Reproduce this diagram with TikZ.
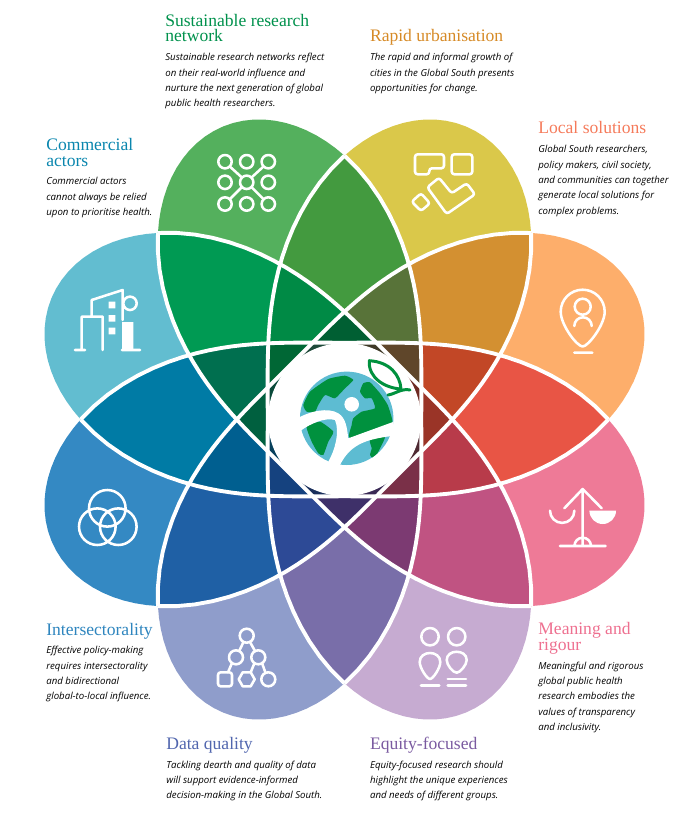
\documentclass[tikz,border=0pt]{standalone}
\usepackage{fontspec}
\setmainfont{Open Sans}
\newfontfamily\headfont{Liberation Serif}
\usetikzlibrary{positioning}
\definecolor{globegreen}{HTML}{00913E}
\definecolor{globeteal}{HTML}{5DBCD2}
\definecolor{sustcol}{HTML}{00914C}
\definecolor{rapidcol}{HTML}{D68A26}
\definecolor{localcol}{HTML}{F57A5A}
\definecolor{commcol}{HTML}{0A86AE}
\definecolor{intercol}{HTML}{2E85BE}
\definecolor{datacol}{HTML}{5166AE}
\definecolor{equitycol}{HTML}{7A5AA0}
\definecolor{meancol}{HTML}{EE7090}
\newcommand{\petal}[3]{%
\definecolor{petalcol}{HTML}{#3}
\fill [petalcol] plot [domain=-22.5:22.5,samples=25] (#1+\x:{Q(#2-abs(\x))})
  -- plot [domain=22.5:-22.5,samples=25] (#1+\x:{Q(#2-45+abs(\x))}) -- cycle;}
\newcommand{\sliver}[2]{%
\definecolor{petalcol}{HTML}{#2}
\fill [petalcol] (0,0) -- plot [domain=-22.5:22.5,samples=25] (#1+\x:{Q(22.5-abs(\x))}) -- cycle;}
\begin{document}
\begin{tikzpicture}[x=0.02cm,y=0.02cm,
declare function={Q(\t)=164-114*cos(1.6*\t)+32.4*cos(3.2*\t)-6.2*cos(4.8*\t)+0.6*cos(6.4*\t);},
head/.style={anchor=north west,inner sep=0pt,align=left,font=\headfont\fontsize{10}{8.8}\selectfont},
body/.style={anchor=north west,inner sep=0pt,align=left,font=\fontsize{5.5}{8.73}\selectfont\itshape},
icon/.style={draw=white,line width=1.45pt,line cap=round,line join=round}]
\useasboundingbox (0,0) rectangle (681,-825);
\begin{scope}[shift={(344.5,-419.5)}]
\foreach \ang/\col in {67.5/DAC84A,22.5/FDAE6B,-22.5/EE7A97,-67.5/C6ABD1,-112.5/8F9DCB,-157.5/3489C3,157.5/62BDD0,112.5/54B05D}
  \petal{\ang}{112.5}{\col};
\foreach \ang/\col in {90/439A3F,45/D39031,0/E85545,-45/C05382,-90/796EA9,-135/1F60A5,180/007BA5,135/009A53}
  \petal{\ang}{90}{\col};
\foreach \ang/\col in {67.5/587339,22.5/C24726,-22.5/B83B4A,-67.5/7C3A72,-112.5/2D4A96,-157.5/005F90,157.5/006F4F,112.5/008A45}
  \petal{\ang}{67.5}{\col};
\foreach \ang/\col in {90/005F33,45/5F462A,0/9A3427,-45/7A3048,-90/3E3069,-135/15427F,180/00603F,135/006735}
  \petal{\ang}{45}{\col};
\foreach \ang/\col in {67.5/3F3A28,22.5/6E2A22,-22.5/4E2A33,-67.5/3A2A55,-112.5/1A2F5C,-157.5/08405C,157.5/0A4A3A,112.5/1F4A3A}
  \sliver{\ang}{\col};
\foreach \ang in {0,45,...,315}
  \draw [white,line width=2.2pt] plot [domain=-90:90,samples=61] (\ang+\x:{Q(abs(\x))});
\fill [white] (0,0) circle (76.5);
\end{scope}
\fill [globeteal] (346.7,-418.3) circle (46.7);
\begin{scope}
\clip (346.7,-418.3) circle (46.7);
\fill [globegreen] plot [smooth cycle,tension=0.3] coordinates {(328.3,-379) (345,-375.7) (353.3,-380) (345,-388.3) (335,-398.3) (325,-395) (318.3,-405) (315,-411.7) (306.7,-411.7) (303.3,-405) (310,-391.7)};
\fill [globegreen] plot [smooth cycle,tension=0.3] coordinates {(353.3,-418.3) (361.7,-411.7) (375,-408.3) (371.7,-398.3) (365,-398.3) (360,-391.7) (363.3,-383.3) (370,-382.3) (380,-393.3) (387.7,-405) (392.3,-420) (390,-426.7) (350,-438.3) (351.7,-425)};
\fill [globegreen] plot [smooth cycle,tension=0.3] coordinates {(306.7,-426.7) (320,-421.7) (333.3,-431.7) (328.3,-441.7) (323.3,-455) (318.3,-453.3) (311.7,-441.7)};
\fill [globegreen] plot [smooth cycle,tension=0.3] coordinates {(370,-440) (385,-436.7) (378.3,-451.7) (373.3,-458.3) (370,-455) (371.7,-448.3)};
\end{scope}
\fill [white] (296,-419) .. controls (310,-411) and (328,-407) .. (338.3,-413.3) .. controls (346,-418) and (347,-428) .. (348.3,-438.3) -- (393,-422) -- (393,-436) -- (386.7,-436.7) .. controls (365,-440) and (350,-445) .. (340,-465) -- (341,-472) -- (328.3,-461.7) .. controls (335,-450) and (340,-432) .. (335,-420) .. controls (325,-417) and (310,-424) .. (301.7,-430) -- (296,-432) -- cycle;
\fill [white] (351.7,-404.3) circle (7.3);
\draw [globegreen,line width=1.7pt,line join=round,line cap=round] (369.3,-360.7) .. controls (390,-362) and (400,-375) .. (401,-389) .. controls (385,-388) and (368,-378) .. (369.3,-360.7) -- cycle (388,-395) .. controls (395,-394) and (402,-388) .. (410,-390);
\draw [icon] (225,-161.7) circle (6.7) (246.7,-161.7) circle (6.7) (268.3,-161.7) circle (6.7) (225,-182.3) circle (6.7) (246.7,-182.3) circle (6.7) (268.3,-182.3) circle (6.7) (225,-204) circle (6.7) (246.7,-204) circle (6.7) (268.3,-204) circle (6.7);
\draw [icon] (229.7,-166.4) -- (242,-177.6) (263.6,-166.4) -- (251.4,-177.6) (229.7,-199.3) -- (242,-187) (263.6,-199.3) -- (251.4,-187);
\draw [icon,rounded corners=1.5] (415,-154.3) -- (444,-154.3) -- (444,-168.3) -- (429.3,-168.3) -- (429.3,-174.3) -- (415,-174.3) -- cycle;
\draw [icon,rounded corners=1.5] (451.7,-154.3) -- (472.3,-154.3) -- (472.3,-174.3) -- (451.7,-174.3) -- cycle;
\draw [icon,rounded corners=1.5] (427.3,-187.3) -- (439,-177.7) -- (451.7,-193.3) -- (466.7,-183.3) -- (475,-194.3) -- (446.7,-214) -- cycle;
\draw [icon,rounded corners=1.5] (411.7,-201.7) -- (421,-193.3) -- (430,-203.3) -- (421,-211) -- cycle;
\draw [icon] (560.7,-311.7) arc (180:0:22) .. controls (604.7,-325) and (588,-346.5) .. (582.7,-346.5) .. controls (577,-346.5) and (560.7,-325) .. (560.7,-311.7) -- cycle;
\draw [icon] (582.7,-306.7) circle (8) (574.3,-326) arc (180:0:8.7) (574.3,-352.7) -- (592.3,-352.7);
\draw [icon] (582.7,-489) -- (582.7,-546) (564.3,-508.3) -- (582.7,-489) -- (601.7,-508.3) (560,-546) -- (605.7,-546) (574.4,-546) arc (180:0:8.3) (550,-510.7) arc (180:360:12.2);
\fill [white] (589.4,-510.7) arc (180:360:13.3) -- cycle;
\draw [icon] (430,-636.7) circle (8.7) (456.7,-636.7) circle (8.7);
\draw [icon] (419.7,-662) .. controls (419.7,-650) and (440.3,-650) .. (440.3,-662) .. controls (440.3,-668) and (433,-679) .. (430,-679) .. controls (427,-679) and (419.7,-668) .. (419.7,-662) -- cycle;
\draw [icon] (446.7,-660) .. controls (446.7,-649) and (466.7,-649) .. (466.7,-660) .. controls (466.7,-665) and (460,-672.7) .. (456.7,-672.7) .. controls (453,-672.7) and (446.7,-665) .. (446.7,-660) -- cycle;
\draw [icon] (421,-685.7) -- (439.3,-685.7) (447.7,-679) -- (466,-679) (447.7,-685.7) -- (466,-685.7);
\draw [icon] (246.7,-635.7) circle (7) (236,-657.3) circle (7) (258.3,-657.3) circle (7) (268.3,-679.3) circle (7);
\draw [icon,rounded corners=1.5] (218,-672.3) -- (232,-672.3) -- (232,-686.3) -- (218,-686.3) -- cycle;
\draw [icon] (238.7,-679.3) -- (242.7,-672.3) -- (250.7,-672.3) -- (254.7,-679.3) -- (250.7,-686.3) -- (242.7,-686.3) -- cycle;
\draw [icon] (243.5,-642) -- (239.2,-651) (250,-642) -- (255,-651) (232,-663) -- (228,-672.3) (254.5,-663) -- (250.7,-672.3) (262,-663) -- (265.5,-672.8);
\draw [icon] (107.3,-508.3) circle (18.3) (97.3,-526.7) circle (18.3) (118.3,-526.7) circle (18.3);
\draw [icon] (75,-350) -- (85,-350) (81.7,-350) -- (81.7,-316.7) -- (102.7,-316.7) -- (102.7,-350) (91.7,-315) -- (91.7,-300) -- (122.7,-290) -- (122.7,-320) (122,-350) -- (140,-350) (130,-303.3) circle (6.7);
\fill [white] (108.7,-301.7) rectangle (115.3,-308.3) (108.7,-315) rectangle (115.3,-321.7) (108.7,-327.7) rectangle (115.3,-334.3) (122,-322) rectangle (133.3,-350);
\node [head,text=sustcol] (sust) at (165,-13.5) {Sustainable research\\network};
\node [body] (sustb) at (165,-53) {Sustainable research networks reflect\\on their real-world influence and\\nurture the next generation of global\\public health researchers.};
\node [head,text=rapidcol] (rapid) at (369.7,-29) {Rapid urbanisation};
\node [body] (rapidb) at (369.7,-53) {The rapid and informal growth of\\cities in the Global South presents\\opportunities for change.};
\node [head,text=localcol] (local) at (538,-121) {Local solutions};
\node [body] (localb) at (538,-145) {Global South researchers,\\policy makers, civil society,\\and communities can together\\generate local solutions for\\complex problems.};
\node [head,text=commcol] (comm) at (46,-138) {Commercial\\actors};
\node [body] (commb) at (46,-177) {Commercial actors\\cannot always be relied\\upon to prioritise health.};
\node [head,text=intercol] (inter) at (46,-623) {Intersectorality};
\node [body] (interb) at (46,-646) {Effective policy-making\\requires intersectorality\\and bidirectional\\global-to-local influence.};
\node [head,text=datacol] (data) at (166,-737) {Data quality};
\node [body] (datab) at (166,-760.5) {Tackling dearth and quality of data\\will support evidence-informed\\decision-making in the Global South.};
\node [head,text=equitycol] (equity) at (369.7,-737) {Equity-focused};
\node [body] (equityb) at (369.7,-760.5) {Equity-focused research should\\highlight the unique experiences\\and needs of different groups.};
\node [head,text=meancol] (mean) at (538,-622) {Meaning and\\rigour};
\node [body] (meanb) at (538,-661.5) {Meaningful and rigorous\\global public health\\research embodies the\\values of transparency\\and inclusivity.};
\end{tikzpicture}
\end{document}
